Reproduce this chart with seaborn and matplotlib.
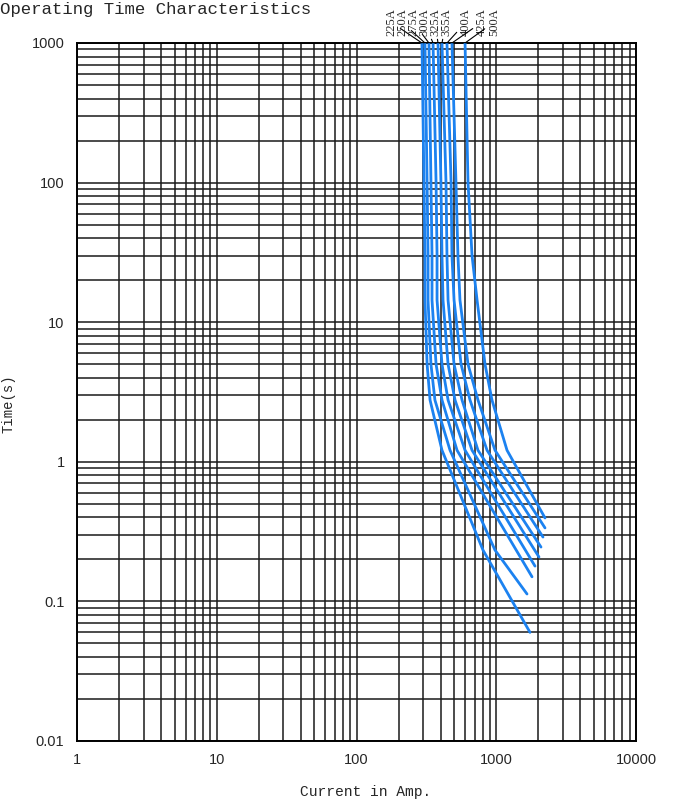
import numpy as np
import pandas as pd
import seaborn as sns
import matplotlib
matplotlib.use("Agg")
import matplotlib.pyplot as plt
from matplotlib.ticker import FixedLocator, NullFormatter

# ratings and curve points (current A, time s)
ratings = ["225A", "250A", "275A", "300A", "325A", "355A", "400A", "425A", "500A"]

i_225 = [294, 304, 309, 309, 320, 336, 409, 804, 1744]
t_225 = [1000, 100, 30, 14.4, 5, 2.77, 1.21, 0.233, 0.060]
i_250 = [309, 320, 325, 325, 341, 364, 467, 980, 1660]
t_250 = [1000, 100, 30, 14.4, 5, 2.77, 1.21, 0.233, 0.113]
i_275 = [330, 341, 347, 347, 371, 409, 524, 1803]
t_275 = [1000, 100, 30, 14.4, 5, 2.77, 1.21, 0.150]
i_300 = [353, 371, 377, 377, 409, 452, 598, 1894]
t_300 = [1000, 100, 30, 14.4, 5, 2.77, 1.21, 0.179]
i_325 = [383, 402, 409, 416, 452, 507, 671, 2022]
t_325 = [1000, 100, 30, 14.4, 5, 2.77, 1.21, 0.208]
i_355 = [409, 437, 444, 452, 499, 569, 740, 2090]
t_355 = [1000, 100, 30, 14.4, 5, 2.77, 1.21, 0.245]
i_400 = [444, 475, 482, 499, 560, 649, 859, 2160]
t_400 = [1000, 100, 30, 14.4, 5, 2.77, 1.21, 0.289]
i_425 = [482, 515, 532, 550, 628, 740, 980, 2233]
t_425 = [1000, 100, 30, 14.4, 5, 2.77, 1.21, 0.336]
i_500 = [598, 628, 671, 729, 831, 932, 1194, 2233]
t_500 = [1000, 100, 30, 14.4, 5, 2.77, 1.21, 0.396]

currents = [i_225, i_250, i_275, i_300, i_325, i_355, i_400, i_425, i_500]
times = [t_225, t_250, t_275, t_300, t_325, t_355, t_400, t_425, t_500]

x_ticks = [1, 10, 100, 1000, 10000]
y_ticks = [0.01, 0.1, 1, 10, 100, 1000]
y_labels = ["0.01", "0.1", "1", "10", "100", "1000"]

# long table for seaborn
rows = []
for r, cur, tt in zip(ratings, currents, times):
    for c, t in zip(cur, tt):
        rows.append({"rating": r, "current": c, "time": t})
df = pd.DataFrame(rows)

sns.set_style("white")
plt.rcParams["font.family"] = ["Liberation Sans", "DejaVu Sans"]

blue = "#1c82f0"
fig = plt.figure(figsize=(6.81, 8.0), dpi=100)
ax = fig.add_axes([77 / 681, 59 / 800, 559 / 681, 698 / 800])

sns.lineplot(data=df, x="current", y="time", hue="rating",
             palette={r: blue for r in ratings}, estimator=None, sort=False,
             linewidth=2.0, legend=False, ax=ax, zorder=3)

ax.set_xscale("log")
ax.set_yscale("log")
ax.set_xlim(1, 10000)
ax.set_ylim(0.01, 1000)
ax.set_xlabel("")
ax.set_ylabel("")

# full log grid, all black
minor = [m * 10.0 ** e for e in range(-2, 4) for m in range(2, 10)]
ax.xaxis.set_major_locator(FixedLocator(x_ticks))
ax.yaxis.set_major_locator(FixedLocator(y_ticks))
ax.xaxis.set_minor_locator(FixedLocator(minor))
ax.yaxis.set_minor_locator(FixedLocator(minor))
ax.xaxis.set_minor_formatter(NullFormatter())
ax.yaxis.set_minor_formatter(NullFormatter())
ax.grid(which="both", color="#1a1a1a", linewidth=1.1)
ax.set_axisbelow(True)

ax.set_xticks(x_ticks)
ax.set_xticklabels([str(v) for v in x_ticks], fontsize=10.5)
ax.set_yticks(y_ticks)
ax.set_yticklabels(y_labels, fontsize=10.5)
ax.tick_params(which="major", direction="out", length=7, width=1, color="black", pad=2)
ax.tick_params(which="minor", length=0)
for s in ax.spines.values():
    s.set_color("black")
    s.set_linewidth(1.4)

mono = ["Liberation Mono", "DejaVu Sans Mono"]
fig.text(366 / 681, 1 - 792 / 800, "Current in Amp.", family=mono, fontsize=10.5,
         ha="center", va="center")
fig.text(9 / 681, 1 - 404 / 800, "Time(s)", family=mono, fontsize=10,
         ha="center", va="center", rotation=90)
fig.text(0.0, 0.998, "Operating Time Characteristics", family=mono, fontsize=12.5,
         ha="left", va="top")

# rating labels above the plot with leader lines to the curve tops
label_px = [391, 402, 413, 424, 435, 446, 466, 482, 494]
for r, cur, lx in zip(ratings, currents, label_px):
    x_top = ax.transData.transform((cur[0], 1000))[0]
    ax.annotate(r, xy=(cur[0], 1000), xycoords="data",
                xytext=(lx - x_top, 7), textcoords="offset pixels",
                rotation=90, ha="center", va="bottom", fontsize=9,
                family=["Liberation Serif", "DejaVu Serif"],
                arrowprops=dict(arrowstyle="-", color="black", lw=0.8,
                                shrinkA=0, shrinkB=0),
                annotation_clip=False)

fig.savefig("out.png", dpi=100)
